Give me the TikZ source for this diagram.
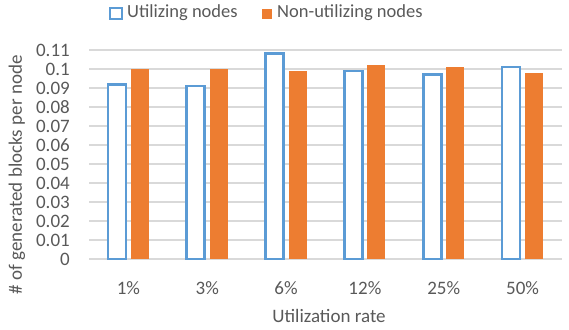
\documentclass[tikz,border=0pt]{standalone}
\usepackage{fontspec}
\setmainfont{Carlito}
\usepackage{tikz}

\definecolor{utilblue}{HTML}{5B9BD5}
\definecolor{nonutilorange}{HTML}{ED7D31}
\definecolor{labelgray}{HTML}{595959}
\definecolor{gridgray}{HTML}{D9D9D9}

\begin{document}
\begin{tikzpicture}[x=1pt,y=1pt]
  \tikzstyle{grid line}=[draw=gridgray,line width=1.2pt]
  \tikzstyle{util bar}=[draw=utilblue,line width=2.6pt,fill=white]
  \tikzstyle{nonutil bar}=[fill=nonutilorange,draw=none]
  \tikzstyle{label text}=[text=labelgray,font=\fontsize{19}{21}\selectfont,inner sep=0pt]

  \useasboundingbox (0,0) rectangle (569,329);

  % horizontal grid lines with the tick values
  \foreach \v/\t in {0/0,1/0.01,2/0.02,3/0.03,4/0.04,5/0.05,6/0.06,7/0.07,8/0.08,9/0.09,10/0.1,11/0.11} {
    \draw[grid line] (89,70+19*\v) -- (562,70+19*\v);
    \node[label text,anchor=east] (tick\v) at (70,70+19*\v) {\t};
  }

  % bars: utilizing nodes (outline) and non-utilizing nodes (filled)
  \foreach \i/\name/\u/\n in {1/1\%/0.092/0.100,2/3\%/0.091/0.100,3/6\%/0.108/0.099,
                              4/12\%/0.099/0.102,5/25\%/0.097/0.101,6/50\%/0.101/0.098} {
    \pgfmathsetmacro{\cx}{89+(\i-0.5)*78.83}
    \fill[nonutil bar] (\cx+2.5,70) rectangle (\cx+20.5,70+1900*\n);
    \draw[util bar] (\cx-20.5,70) rectangle (\cx-2.5,70+1900*\u);
    \node[label text] (cat\i) at (\cx,41) {\name};
  }

  % axis titles
  \node[label text] (xtitle) at (329,13) {Utilization rate};
  \node[label text,rotate=90] (ytitle) at (17,154) {\# of generated blocks per node};

  % legend
  \draw[util bar,line width=2.2pt] (110,310) rectangle (122,321);
  \node[label text,anchor=west,font=\fontsize{18.5}{20}\selectfont] (leg util) at (127,316) {Utilizing nodes};
  \fill[nonutil bar] (262,310) rectangle (272,320);
  \node[label text,anchor=west,font=\fontsize{18.5}{20}\selectfont] (leg nonutil) at (277,316) {Non-utilizing nodes};
\end{tikzpicture}
\end{document}
